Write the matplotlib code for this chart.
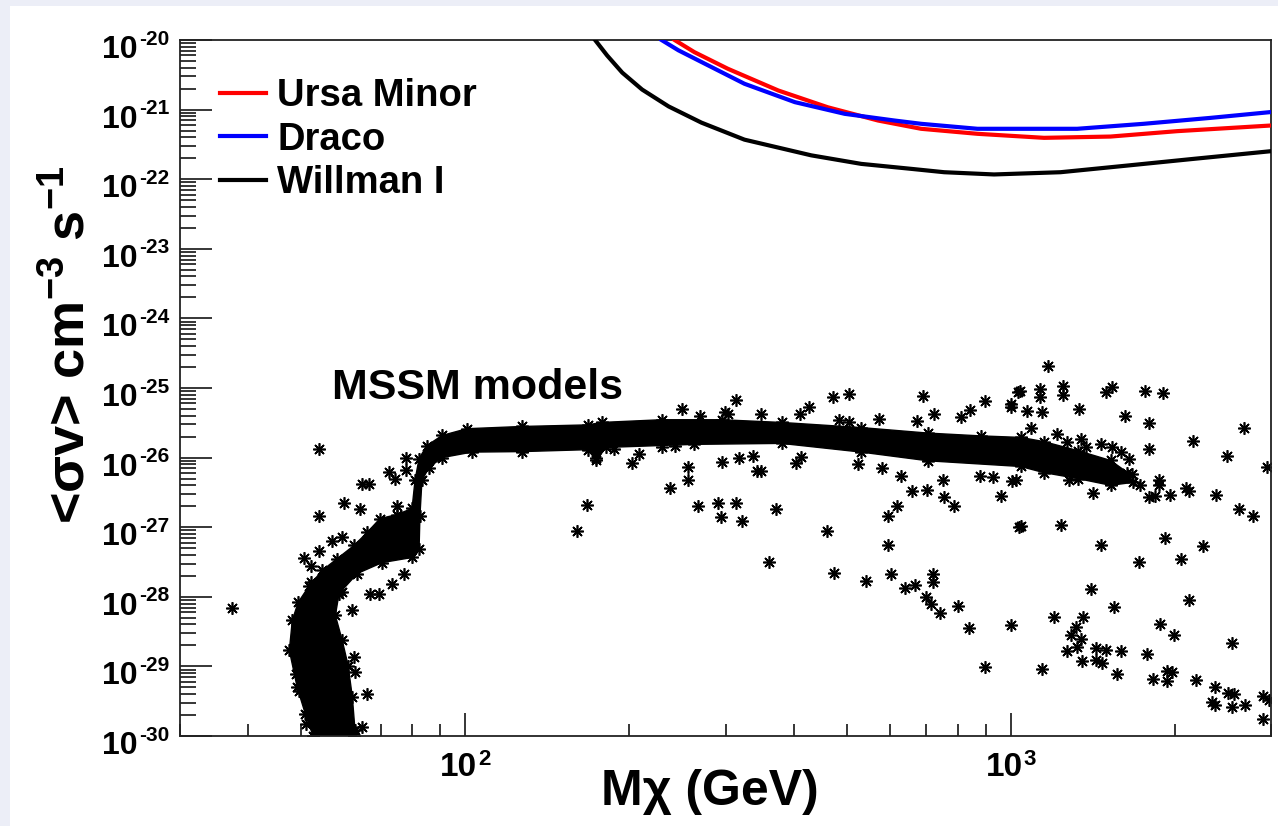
"""
Annihilation cross-section limits from dwarf galaxies vs. MSSM model points.
"""

import matplotlib.pyplot as plt
import numpy as np
from matplotlib.patches import Rectangle
from matplotlib.ticker import LogLocator, NullFormatter

plt.rcParams['font.family'] = ['Liberation Sans', 'DejaVu Sans']
plt.rcParams['font.weight'] = 'bold'
plt.rcParams['mathtext.fontset'] = 'custom'
plt.rcParams['mathtext.rm'] = 'Liberation Sans:bold'
plt.rcParams['mathtext.bf'] = 'Liberation Sans:bold'
plt.rcParams['mathtext.it'] = 'Liberation Sans:bold'
plt.rcParams['mathtext.default'] = 'rm'

# upper limits (GeV, cm^3 s^-1)
ursa_m = [242, 263, 303, 375, 462, 571, 685, 869, 1151, 1524, 2018, 2990]
ursa_sv = [1.0e-20, 6.7e-21, 3.86e-21, 1.88e-21, 1.08e-21, 6.97e-22,
           5.3e-22, 4.49e-22, 3.93e-22, 4.1e-22, 4.9e-22, 5.9e-22]

draco_m = [229, 246, 283, 325, 402, 496, 612, 685, 869, 1324, 1753, 2322, 2990]
draco_sv = [1.0e-20, 7.1e-21, 4.07e-21, 2.35e-21, 1.28e-21, 8.7e-22, 6.97e-22,
            6.25e-22, 5.3e-22, 5.3e-22, 6.25e-22, 7.6e-22, 9.2e-22]

willman_m = [173, 182, 194, 211, 236, 271, 325, 431, 532, 656, 755, 932,
             1234, 1635, 2164, 2990]
willman_sv = [1.0e-20, 6.0e-21, 3.4e-21, 1.94e-21, 1.11e-21, 6.5e-22, 3.7e-22,
              2.2e-22, 1.66e-22, 1.41e-22, 1.26e-22, 1.17e-22, 1.26e-22,
              1.57e-22, 1.96e-22, 2.52e-22]

# outline of the dense MSSM band
band_m = [52.6, 50.9, 49.2, 47.6, 48.2, 49.4, 51.8, 54.7, 58.3, 62.6, 66.1,
          69.8, 75.0, 79.9, 80.9, 82.3, 85.1, 90.7, 100.7, 127, 167.7, 177.8,
          229, 295, 380, 532, 705, 881, 1043, 1149, 1327, 1524, 1637, 1673,
          1524, 1327, 1149, 1043, 705, 532, 380, 263, 181, 174, 167.7, 127,
          102.9, 90.7, 85.8, 83.3, 82.6, 82.3, 79.9, 70.4, 63.4, 58.7, 57.8,
          59.5, 61.0, 62.1, 62.8, 62.6]
band_sv = [1.0e-30, 2.1e-30, 5.0e-30, 1.7e-29, 4.6e-29, 8.3e-29, 1.45e-28,
           2.4e-28, 3.55e-28, 5.5e-28, 8.4e-28, 1.33e-27, 1.52e-27, 1.86e-27,
           4.7e-27, 9.7e-27, 1.49e-26, 2.08e-26, 2.6e-26, 2.8e-26, 2.95e-26,
           3.2e-26, 3.5e-26, 3.5e-26, 3.2e-26, 2.7e-26, 2.25e-26,
           2.05e-26, 1.95e-26, 1.7e-26, 1.26e-26, 9.1e-27, 6.1e-27, 4.4e-27,
           4.0e-27, 5.0e-27, 6.1e-27, 7.45e-27, 9.0e-27, 1.2e-26, 1.6e-26,
           1.55e-26, 1.4e-26, 9.1e-27, 1.3e-26, 1.22e-26, 1.2e-26, 1.0e-26,
           7.2e-27, 4.7e-27, 1.47e-27, 4.9e-28, 3.67e-28, 3.1e-28, 2.16e-28,
           1.11e-28, 5.4e-29, 2.36e-29, 1.03e-29, 3.6e-30, 1.2e-30, 1.0e-30]

# scattered MSSM models outside the band
mssm_m = [53.9, 59.9, 53.9, 37.4, 64.7, 66.6, 77.9, 77.9, 72.4, 74.5, 75.0,
          50.6, 52.1, 53.9, 57.0, 59.5, 64.2, 77.2, 67.0, 69.4, 59.5, 62.1,
          73.4, 48.9, 49.6, 62.5, 62.9, 66.1, 64.7, 51.0, 52.1,
          250, 269, 299, 303, 313, 348, 174, 167, 160, 202, 208, 229, 242,
          256, 256, 237, 267, 291, 294, 313, 322, 295, 317, 337, 343, 372,
          361, 187,
          472, 505, 690, 410, 427, 484, 506, 574, 673, 724, 810, 843, 897,
          1031, 1000, 413, 404, 349, 524, 581, 629, 658, 702, 750, 755, 786,
          619, 595, 461, 595, 1036, 475, 543, 603, 640, 668, 719, 719, 699,
          714, 743, 799, 837, 1000, 897, 879, 926, 959, 1007,
          1172, 1040, 1131, 1131, 1246, 1246, 1492, 1535, 1766, 1903, 1333,
          1623, 1791, 1791, 2159, 2680, 2491, 2949, 1270, 1343, 1372, 1461,
          1535, 1590, 1646, 1670, 1729, 1868, 1868, 1791, 1842, 1956, 2099,
          2119, 2381, 2616, 2780, 1021, 1279, 1417, 1046, 1238, 1461, 1921,
          1722, 2055, 2252, 1401, 1545, 2125, 1200, 1358, 1315, 1288, 1343,
          1324, 1270, 1431, 1498, 1590, 1353, 1431, 1472, 1568, 1143, 1876,
          1989, 1774, 2544, 1824, 1935, 1976, 1935, 2189, 2371, 2339, 2371,
          2507, 2569, 2544, 2691, 2900, 2981, 2900,
          1000, 1073, 1143, 1217, 1088]
mssm_sv = [1.31e-26, 2.2e-27, 1.44e-27, 7.0e-29, 4.2e-27, 4.2e-27, 9.8e-27,
           6.7e-27, 6.2e-27, 5.0e-27, 2.05e-27, 3.6e-28, 2.8e-28, 4.5e-28,
           6.4e-28, 7.2e-28, 1.84e-27, 2.1e-28, 1.1e-28, 1.1e-28, 1.16e-28,
           6.4e-29, 1.54e-28, 7.8e-30, 4.5e-30, 1.36e-29, 8.3e-30, 4.0e-30,
           1.34e-30, 1.5e-30, 1.62e-28,
           5.0e-26, 4.0e-26, 4.5e-26, 4.3e-26, 6.8e-26, 4.3e-26, 9.9e-27,
           2.1e-27, 8.8e-28, 8.3e-27, 1.13e-26, 1.41e-26, 1.49e-26, 7.3e-27,
           4.8e-27, 3.6e-27, 2.0e-27, 2.2e-27, 1.39e-27, 2.2e-27, 1.22e-27,
           8.6e-27, 9.8e-27, 1.07e-26, 6.4e-27, 1.84e-27, 3.2e-28, 1.34e-26,
           7.4e-26, 8.3e-26, 7.8e-26, 4.3e-26, 5.3e-26, 3.5e-26, 3.3e-26,
           3.6e-26, 3.4e-26, 4.3e-26, 3.8e-26, 4.9e-26, 6.4e-26, 8.9e-26,
           5.3e-26, 1.01e-26, 8.3e-27, 6.4e-27, 8.1e-27, 7.0e-27, 5.5e-27,
           3.3e-27, 3.4e-27, 4.8e-27, 2.7e-27, 2.0e-27, 2.05e-27, 1.44e-27,
           8.8e-28, 5.5e-28, 1.02e-27, 2.2e-28, 1.67e-28, 2.1e-28, 1.35e-28,
           1.5e-28, 2.1e-28, 1.62e-28, 9.9e-29, 7.8e-29, 5.8e-29, 7.3e-29,
           3.6e-29, 3.9e-29, 9.7e-30, 5.4e-27, 5.2e-27, 2.85e-27, 4.6e-27,
           2.1e-25, 9.0e-26, 9.7e-26, 7.4e-26, 1.06e-25, 8.0e-26, 8.7e-26,
           1.05e-25, 9.0e-26, 8.5e-26, 5.0e-26, 3.9e-26, 3.1e-26, 1.34e-26,
           1.76e-26, 2.7e-26, 1.04e-26, 7.3e-27, 1.66e-26, 1.86e-26, 1.41e-26,
           1.58e-26, 1.41e-26, 1.2e-26, 9.6e-27, 5.8e-27, 4.0e-27, 4.7e-27,
           4.0e-27, 2.7e-27, 2.85e-27, 2.95e-27, 3.6e-27, 3.3e-27, 2.95e-27,
           1.84e-27, 1.44e-27, 4.7e-27, 4.7e-27, 3.1e-27, 1.03e-27, 1.09e-27,
           5.5e-28, 7.0e-28, 3.2e-28, 3.5e-28, 5.3e-28, 1.3e-28, 7.1e-29,
           8.9e-29, 5.2e-29, 5.1e-29, 3.7e-29, 2.8e-29, 2.5e-29, 1.89e-29,
           1.65e-29, 1.85e-29, 1.73e-29, 1.65e-29, 1.19e-29, 1.22e-29,
           1.11e-29, 7.8e-30, 9.2e-30, 4.0e-29, 2.8e-29, 1.52e-29, 2.2e-29,
           6.6e-30, 8.7e-30, 8.3e-30, 6.1e-30, 6.4e-30, 5.0e-30, 3.06e-30,
           2.8e-30, 4.1e-30, 4.0e-30, 2.6e-30, 2.8e-30, 3.8e-30, 3.3e-30,
           1.77e-30,
           5.9e-26, 4.75e-26, 4.5e-26, 2.2e-26, 2.7e-26]

x_decades = [100, 1000]
y_decades = [1e-20, 1e-21, 1e-22, 1e-23, 1e-24, 1e-25, 1e-26, 1e-27, 1e-28,
             1e-29, 1e-30]

STAR = (8, 2, 0)

fig = plt.figure(figsize=(12.78, 8.26), dpi=100)
fig.patch.set_facecolor('#eceef7')
fig.patches.append(Rectangle((10 / 1278, 0), 1 - 10 / 1278, 1 - 6 / 826,
                             transform=fig.transFigure, facecolor='white',
                             edgecolor='none', zorder=-10))

ax = fig.add_axes([180 / 1278, 90 / 826, 1091 / 1278, 696 / 826])
ax.set_xscale('log')
ax.set_yscale('log')
ax.set_xlim(30, 3000)
ax.set_ylim(1e-30, 1e-20)
ax.set_facecolor('white')

# MSSM scan
ax.fill(band_m, band_sv, color='black', lw=1.0, zorder=2)
ax.plot(band_m, band_sv, ls='none', marker=STAR, ms=9, mew=1.2,
        color='black', zorder=2)
ax.plot(mssm_m, mssm_sv, ls='none', marker=STAR, ms=9, mew=1.2,
        color='black', zorder=2)

# dwarf limits
ax.plot(ursa_m, ursa_sv, color='#ff0000', lw=3, label='Ursa Minor', zorder=3)
ax.plot(draco_m, draco_sv, color='#0000ff', lw=3, label='Draco', zorder=3)
ax.plot(willman_m, willman_sv, color='black', lw=3, label='Willman I', zorder=3)

ax.text(57, 1.0e-25, 'MSSM models', fontsize=31, fontweight='bold',
        va='center', ha='left')

leg = ax.legend(loc='upper left', bbox_to_anchor=(220 / 1278, 1 - 78 / 826),
                bbox_transform=fig.transFigure, frameon=False, fontsize=27.5,
                handlelength=1.2, handletextpad=0.3, labelspacing=0.2,
                borderpad=0, borderaxespad=0)
for line in leg.get_lines():
    line.set_linewidth(3)

for axis in (ax.xaxis, ax.yaxis):
    axis.set_major_locator(LogLocator(base=10, numticks=30))
    axis.set_minor_locator(LogLocator(base=10, subs=np.arange(2, 10), numticks=30))
    axis.set_major_formatter(NullFormatter())
    axis.set_minor_formatter(NullFormatter())

# decade labels: "10" with a small raised exponent
for v in y_decades:
    ax.annotate('10', (0, v), xycoords=('axes fraction', 'data'),
                xytext=(-42, -10), textcoords='offset pixels',
                ha='right', va='center', fontsize=23, annotation_clip=False)
    ax.annotate(str(int(round(np.log10(v)))), (0, v),
                xycoords=('axes fraction', 'data'),
                xytext=(-41, 1), textcoords='offset pixels',
                ha='left', va='center', fontsize=15, annotation_clip=False)
for v in x_decades:
    ax.annotate('10', (v, 0), xycoords=('data', 'axes fraction'),
                xytext=(12, -16), textcoords='offset pixels',
                ha='right', va='top', fontsize=24, annotation_clip=False)
    ax.annotate(str(int(round(np.log10(v)))), (v, 0),
                xycoords=('data', 'axes fraction'),
                xytext=(13, -13), textcoords='offset pixels',
                ha='left', va='top', fontsize=16, annotation_clip=False)

ax.tick_params(which='both', direction='in', top=False, right=False, width=1.1)
ax.tick_params(axis='y', which='major', length=23)
ax.tick_params(axis='y', which='minor', length=11.5)
ax.tick_params(axis='x', which='major', length=16.5)
ax.tick_params(axis='x', which='minor', length=8.6)
for spine in ax.spines.values():
    spine.set_linewidth(1.3)
    spine.set_color('#222222')

ax.set_xlabel('M\u03c7 (GeV)', fontsize=36, fontweight='bold', va='center')
ax.xaxis.set_label_coords(530 / 1091, -56 / 696)
ax.set_ylabel(r'<$\mathbf{\sigma}$v> cm$^{\mathbf{-3}}$ s$^{\mathbf{-1}}$',
              fontsize=39, fontweight='bold', va='center')
ax.yaxis.set_label_coords(-110 / 1091, 391 / 696)

fig.savefig('out.png', dpi=100, facecolor=fig.get_facecolor())
